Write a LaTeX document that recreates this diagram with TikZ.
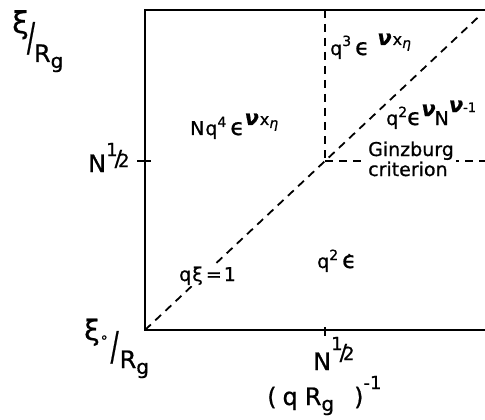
\documentclass[tikz,border=0pt]{standalone}
\usepackage{fontspec}
\usepackage{graphicx}
\setmainfont{DejaVu Sans}[FakeBold=0.8]
\usetikzlibrary{calc}
\newcommand\hi[2]{\raisebox{#1}{#2}}
\newcommand\fs[1]{\fontsize{#1}{#1}\selectfont}
\newcommand\bnu{{\bfseries\itshape ν}}
\newcommand\eps{{\fs{23}ϵ}}
\newcommand\lslash{\scalebox{1}[1.65]{/}}
\tikzset{
  frame/.style={line width=1.3pt},
  dsh/.style={line width=1.8pt, dash pattern=on 8pt off 6pt},
  lab/.style={inner sep=0pt, anchor=base west, font=\fs{19}},
  axl/.style={inner sep=0pt, anchor=base west, font=\fs{24}},
}
\begin{document}
\begin{tikzpicture}[x=1pt,y=-1pt]
\useasboundingbox (0,0) rectangle (485,420);
\coordinate (O) at (145,330);
\coordinate (TL) at (145,10);
\coordinate (TR) at (485,10);
\coordinate (BR) at (485,330);
\coordinate (C) at (325,161);
\coordinate (VT) at (325,10);
\coordinate (HR) at (485,161);
\coordinate (D) at ($(O)!1.85!(C)$);
\coordinate (YT1) at (137,161);
\coordinate (YT2) at (151,161);
\coordinate (XT1) at (325,327);
\coordinate (XT2) at (325,336);
\draw[frame] (TR) -- (TL) -- (O) -- (BR);
\draw[frame] (YT1) -- (YT2);
\draw[frame] (XT1) -- (XT2);
\draw[dsh] (VT) -- (C);
\draw[dsh] (C) -- (HR);
\draw[dsh] (O) -- (D);
% region labels
\node[lab] (nq4) at (190,135) {N\kern1pt q\hi{8pt}{\fs{14}4}\kern4pt\eps\hi{10pt}{\fs{21}\bnu\kern1pt\fs{16}x\hi{-3pt}{\fs{14}\itshape η}}};
\node[lab] (q3) at (330,55) {q\hi{9pt}{\fs{14}3}\kern4pt\eps\kern8pt\hi{10pt}{\fs{21}\bnu\kern1pt\fs{16}x\hi{-3pt}{\fs{14}\itshape η}}};
\node[lab] (q2n) at (386,125) {q\hi{8pt}{\fs{14}2}\eps\hi{9pt}{\fs{21}\bnu}\kern-1pt N\hi{13pt}{\fs{21}\bnu\fs{13}-1}};
\node[lab, fill=white, inner sep=2pt, align=left, font=\fontsize{19}{20}\selectfont] (gz) at (366,176) {Ginzburg\\criterion};
\node[lab, fill=white, inner sep=1pt] (qxi) at (178,281) {q\kern1pt ξ\kern3pt =\kern2pt 1};
\node[lab] (q2e) at (317,268) {q\hi{8pt}{\fs{14}2}\kern4pt\makebox[0pt][l]{\kern4.5pt\hi{12pt}{\fs{16}.}}\eps};
% axis labels
\node[axl] (ylab) at (12,33) {{\fs{30}ξ}\kern-2pt\hi{-18pt}{\lslash}\kern-1pt\hi{-29pt}{R\hi{-6pt}{\fs{20}g}}};
\node[axl] (yn) at (88,172) {N\hi{16pt}{\fs{18}1}\kern-3pt\hi{6pt}{\fs{22}/}\kern-4pt\hi{5pt}{\fs{18}2}};
\node[axl] (y0) at (84,340) {{\fs{28}ξ}\hi{-2pt}{\fs{14}∘}\kern2pt\hi{-20pt}{\lslash}\kern1pt\hi{-28pt}{R\hi{-6pt}{\fs{20}g}}};
\node[axl] (xn) at (313,370) {N\hi{20pt}{\fs{18}1}\kern-3pt\hi{10pt}{\fs{22}/}\kern-4pt\hi{10pt}{\fs{18}2}};
\node[axl] (xlab) at (267,405) {(\kern6pt q\kern7pt R\hi{-6pt}{\fs{20}g}\kern20pt )\hi{16pt}{\fs{18}-1}};
\end{tikzpicture}
\end{document}
